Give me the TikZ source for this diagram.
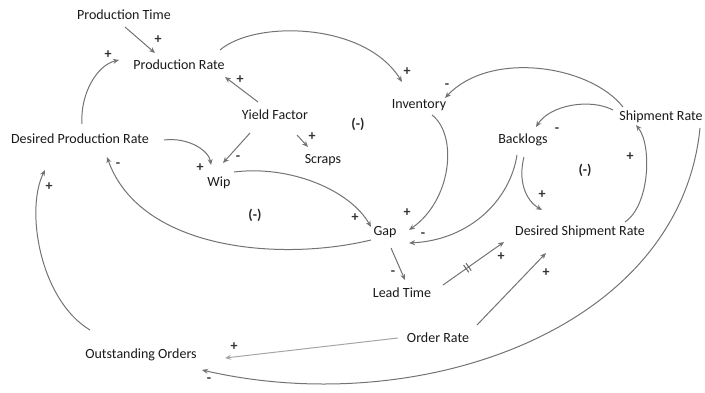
\documentclass[tikz,border=0pt]{standalone}
\usepackage{fontspec}
\setmainfont{Carlito}
\usetikzlibrary{arrows.meta}
\begin{document}
\begin{tikzpicture}[x=1pt,y=-1pt,
  var/.style={font=\fontsize{14}{16}\selectfont, text=black!90, inner sep=0pt},
  link/.style={draw=black!55, line width=1pt, -{Stealth[length=6pt,width=5pt]}},
  faint/.style={draw=black!35},
  pol/.style={font=\fontsize{14}{14}\selectfont\bfseries, text=black!80, inner sep=0pt},
  loopsign/.style={font=\fontsize{14}{16}\selectfont\bfseries, text=black!85, inner sep=0pt}]
\useasboundingbox (0,0) rectangle (705,393);

% variables
\node[var] (pt)  at (124,15)  {Production Time};
\node[var] (pr)  at (179,65)  {Production Rate};
\node[var] (yf)  at (275,115) {Yield Factor};
\node[var] (dpr) at (80,139)  {Desired Production Rate};
\node[var] (sc)  at (323,160) {Scraps};
\node[var] (wip) at (219,183) {Wip};
\node[var] (gap) at (385,232) {Gap};
\node[var] (inv) at (419,105) {Inventory};
\node[var] (bl)  at (523,140) {Backlogs};
\node[var] (sr)  at (661,117) {Shipment Rate};
\node[var] (dsr) at (580,232) {Desired Shipment Rate};
\node[var] (lt)  at (402,293) {Lead Time};
\node[var] (ord) at (438,338) {Order Rate};
\node[var] (oo)  at (141,355) {Outstanding Orders};

% loop polarities
\node[loopsign] (loopA) at (358,124) {(-)};
\node[loopsign] (loopB) at (255,215) {(-)};
\node[loopsign] (loopC) at (585,170) {(-)};

% causal links
\draw[link] ([shift={(1,12)}]pt.center) -- ([shift={(-24,-12)}]pr.center);
\draw[link] ([shift={(2,-15)}]dpr.center) .. controls +(-2,-30) and +(-22,5) .. ([shift={(-60,-5)}]pr.center);
\draw[link] ([shift={(-17,-13)}]yf.center) -- ([shift={(46,12)}]pr.center);
\draw[link] ([shift={(41,-15)}]pr.center) .. controls +(35,-30) and +(-37,-60) .. ([shift={(-17,-23)}]inv.center);
\draw[link] ([shift={(-25,18)}]yf.center) -- ([shift={(4,-20)}]wip.center);
\draw[link] ([shift={(22,20)}]yf.center) -- ([shift={(-15,-13)}]sc.center);
\draw[link] ([shift={(84,1)}]dpr.center) .. controls +(25,-3) and +(-2,-14) .. ([shift={(-8,-18)}]wip.center);
\draw[link] ([shift={(15,-11)}]wip.center) .. controls +(56,-7) and +(-21,-37) .. ([shift={(-14,-5)}]gap.center);
\draw[link] ([shift={(-14,8)}]gap.center) .. controls +(-91,22) and +(33,93) .. ([shift={(27,18)}]dpr.center);
\draw[link] ([shift={(13,10)}]inv.center) .. controls +(26,20) and +(43,-30) .. ([shift={(24,-2)}]gap.center);
\draw[link] ([shift={(-6,15)}]bl.center) .. controls +(-7,45) and +(61,-3) .. ([shift={(24,11)}]gap.center);
\draw[link] ([shift={(-38,-10)}]sr.center) .. controls +(-33,-42) and +(45,-48) .. ([shift={(26,-7)}]inv.center);
\draw[link] ([shift={(-48,-7)}]sr.center) .. controls +(-23,-12) and +(14,-22) .. ([shift={(13,-13)}]bl.center);
\draw[link] ([shift={(1,17)}]bl.center) .. controls +(-6,23) and +(-17,-10) .. ([shift={(-38,-22)}]dsr.center);
\draw[link] ([shift={(45,-10)}]dsr.center) .. controls +(25,-17) and +(16,20) .. ([shift={(-25,8)}]sr.center);
\draw[link] ([shift={(6,16)}]gap.center) -- ([shift={(3,-13)}]lt.center);
\draw[link] ([shift={(41,-8)}]lt.center) -- node[pos=0.4, sloped, inner sep=0pt] (delay)
  {\color{black!60}\rule{1pt}{9pt}\hspace{2pt}\rule{1pt}{9pt}} ([shift={(-76,10)}]dsr.center);
\draw[link] ([shift={(39,-13)}]ord.center) -- ([shift={(-34,21)}]dsr.center);
\draw[link,faint] ([shift={(-40,0)}]ord.center) -- ([shift={(84,3)}]oo.center);
\draw[link] ([shift={(39,11)}]sr.center) .. controls +(-20,202) and +(217,50) .. ([shift={(61,15)}]oo.center);
\draw[link] ([shift={(-51,-25)}]oo.center) .. controls +(-50,-30) and +(-20,40) .. ([shift={(-35,31)}]dpr.center);

% link polarities
\node[pol] (s1)  at (158,40)  {+};
\node[pol] (s2)  at (108,55)  {+};
\node[pol] (s3)  at (240,80)  {+};
\node[pol] (s4)  at (407,72)  {+};
\node[pol] (s5)  at (238,158) {-};
\node[pol] (s6)  at (312,137) {+};
\node[pol] (s7)  at (200,168) {+};
\node[pol] (s8)  at (355,218) {+};
\node[pol] (s9)  at (118,165) {-};
\node[pol] (s10) at (407,213) {+};
\node[pol] (s11) at (423,235) {-};
\node[pol] (s12) at (447,86)  {-};
\node[pol] (s13) at (557,130) {-};
\node[pol] (s14) at (542,195) {+};
\node[pol] (s15) at (630,157) {+};
\node[pol] (s16) at (393,273) {-};
\node[pol] (s17) at (501,257) {+};
\node[pol] (s18) at (546,273) {+};
\node[pol] (s19) at (234,347) {+};
\node[pol] (s20) at (209,380) {-};
\node[pol] (s21) at (49,187)  {+};
\end{tikzpicture}
\end{document}
